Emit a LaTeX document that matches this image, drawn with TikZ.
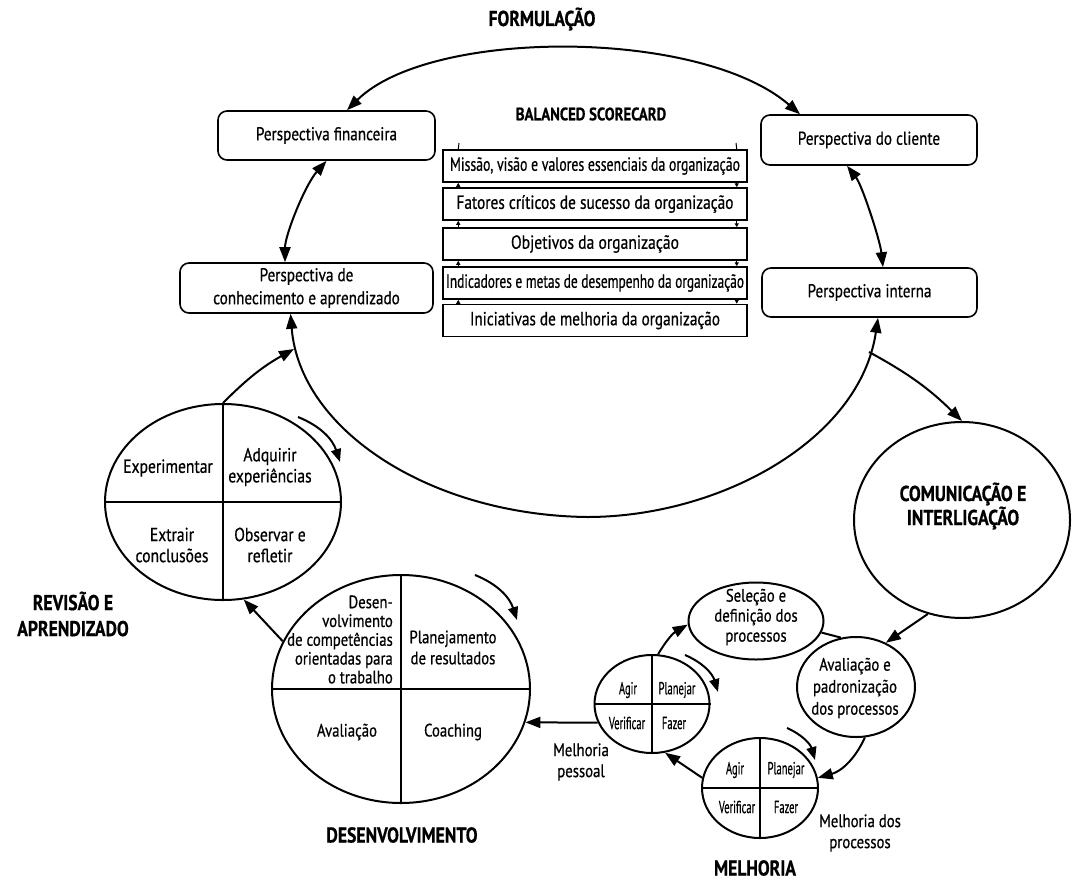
\documentclass[tikz,border=0pt]{standalone}
\usepackage{graphicx}
\usepackage{fontspec}
\setmainfont[FakeStretch=0.82, FakeBold=0.6]{PT Sans}
\newfontfamily\condfont[FakeStretch=0.6, FakeBold=0.5]{PT Sans}
\newfontfamily\pdcafont[FakeStretch=0.6, FakeBold=0.5]{PT Sans}
\usetikzlibrary{shapes.geometric,arrows.meta}
\newcommand\fsz[2]{\fontsize{#1}{#2}\selectfont}
% set a line of text at a given width, keeping its height
\newcommand\fitw[2]{\resizebox{#1}{\height}{#2}}

\tikzset{
  every node/.style={inner sep=0pt},
  pbox/.style={draw, line width=1.6pt, rounded corners=9pt, fill=white, align=center, font=\fsz{18.5}{23}},
  bbox/.style={draw, line width=1.5pt, minimum width=304pt, minimum height=32pt, font=\condfont\fsz{19}{21}},
  ring/.style={draw, ellipse, line width=2pt},
  split/.style={line width=1.8pt},
  qtext/.style={font=\fsz{19}{21}, align=center},
  dtext/.style={font=\fsz{18}{18.8}},
  stext/.style={font=\fsz{18}{21}, align=center},
  ptext/.style={font=\pdcafont\fsz{17.5}{18}},
  heading/.style={font=\bfseries\fsz{21.5}{26}, align=center},
  flow/.style={line width=2pt, ->},
  both/.style={line width=2pt, <->},
  spin/.style={line width=2pt, -{Triangle[length=13pt,width=10pt]}},
  link/.style={line width=1pt, -{Triangle[length=4pt,width=4pt]}},
}

\begin{document}
\begin{tikzpicture}[x=1pt, y=-1pt, >={Triangle[length=15pt,width=11pt]}]
\useasboundingbox (0,0) rectangle (1076,881);

% ---------- headings ----------
\node[heading] (hForm) at (542,19) {FORMULAÇÃO};
\node[font=\bfseries\fsz{18}{20}] (hBsc) at (591,114) {BALANCED SCORECARD};
\node[heading] (hRev) at (73,614) {REVISÃO E\\APRENDIZADO};
\node[heading] (hDev) at (402,835) {DESENVOLVIMENTO};
\node[heading] (hMel) at (755,868) {MELHORIA};

% ---------- the four perspectives ----------
\node[pbox, minimum width=217pt, minimum height=49pt] (fin) at (326.5,135.5) {Perspectiva financeira};
\node[pbox, minimum width=253pt, minimum height=50pt] (conh) at (306.5,288) {Perspectiva de\\conhecimento e aprendizado};
\node[pbox, minimum width=216pt, minimum height=50pt] (cli) at (869,140) {Perspectiva do cliente};
\node[pbox, minimum width=215pt, minimum height=49pt] (int) at (869.5,292.5) {Perspectiva interna};

% ---------- balanced scorecard stack ----------
\node[bbox] (b1) at (595,166) {\fitw{290pt}{Missão, visão e valores essenciais da organização}};
\node[bbox] (b2) at (595,204) {\fitw{277pt}{Fatores críticos de sucesso da organização}};
\node[bbox] (b3) at (595,244) {\fitw{168pt}{Objetivos da organização}};
\node[bbox] (b4) at (595,283) {\fitw{298pt}{Indicadores e metas de desempenho da organização}};
\node[bbox] (b5) at (595,320.5) {\fitw{250pt}{Iniciativas de melhoria da organização}};

\coordinate (tl) at (459,143);
\coordinate (tr) at (736,143);
\draw[line width=1pt] (tl) -- ([xshift=16pt]b1.north west);
\draw[line width=1pt] (tr) -- ([xshift=-11pt]b1.north east);
\foreach \u/\l in {b1/b2, b2/b3, b3/b4, b4/b5} {
  \draw[link] ([xshift=16pt]\l.north west) -- ([xshift=16pt]\u.south west);
  \draw[link] ([xshift=-11pt]\u.south east) -- ([xshift=-11pt]\l.north east);
}

% ---------- revision and learning cycle ----------
\node[ring, minimum width=236pt, minimum height=196pt] (rev) at (223,502) {};
\draw[split] (rev.north) -- (rev.south);
\draw[split] (rev.west) -- (rev.east);
\node[qtext] (r1) at (168,468) {Experimentar};
\node[qtext] (r2) at (270,467) {Adquirir\\experiências};
\node[qtext] (r3) at (172,545) {Extrair\\conclusões};
\node[qtext] (r4) at (270,545) {Observar e\\refletir};

% ---------- development cycle ----------
\node[ring, minimum width=258pt, minimum height=228pt] (dev) at (401,689) {};
\draw[split] (dev.north) -- (dev.south);
\draw[split] (dev.west) -- (dev.east);
\node[dtext, align=right, anchor=east] (d1) at (393,639.5) {Desen-\\volvimento\\de competências\\orientadas para\\o trabalho};
\node[dtext, font=\fsz{18}{21}, align=center] (d2) at (453,647.5) {Planejamento\\de resultados};
\node[dtext] (d3) at (347,732) {Avaliação};
\node[dtext] (d4) at (453,732) {Coaching};

% ---------- communication ----------
\node[ring, minimum width=216pt, minimum height=196pt] (com) at (962,520) {};
\node[heading, font=\bfseries\fsz{21.5}{22}] (comT) at (963,506) {COMUNICAÇÃO E\\INTERLIGAÇÃO};

% ---------- process improvement ----------
\node[ring, minimum width=135pt, minimum height=77pt] (sel) at (756,621) {};
\node[stext, font=\fsz{18}{20}] (selT) at (756,617) {Seleção e\\definição dos\\processos};
\node[ring, minimum width=118pt, minimum height=100pt] (ava) at (856,687) {};
\node[stext, font=\fsz{18}{22}] (avaT) at (855,688) {Avaliação e\\padronização\\dos processos};

\node[ring, minimum width=115pt, minimum height=98pt] (p1) at (652,704) {};
\draw[split] (p1.north) -- (p1.south);
\draw[split] (p1.west) -- (p1.east);
\node[ptext] (p1a) at (628,690) {Agir};
\node[ptext] (p1b) at (677,690) {Planejar};
\node[ptext] (p1c) at (627,723) {Verificar};
\node[ptext] (p1d) at (674,723) {Fazer};

\node[ring, minimum width=116pt, minimum height=100pt] (p2) at (760,788) {};
\draw[split] (p2.north) -- (p2.south);
\draw[split] (p2.west) -- (p2.east);
\node[ptext] (p2a) at (735,770) {Agir};
\node[ptext] (p2b) at (786,770) {Planejar};
\node[ptext] (p2c) at (737,807) {Verificar};
\node[ptext] (p2d) at (786,807) {Fazer};

\node[stext] (mp) at (581,762) {Melhoria\\pessoal};
\node[stext] (mdp) at (860,833) {Melhoria dos\\processos};

% ---------- the large formulation loop ----------
\draw[both] ([xshift=20.5pt]fin.north) .. controls (430,28) and (700,28) .. ([xshift=-69pt]cli.north);
\draw[both] (fin.south) .. controls (305,185) and (285,235) .. ([xshift=-21.5pt]conh.north);
\draw[both] ([xshift=-22pt]cli.south) .. controls (862,185) and (880,240) .. ([xshift=13.5pt]int.north);
\coordinate (ebot) at (587,517);
\draw[both] ([xshift=8.5pt]int.south) .. controls (860,440) and (720,517) .. (ebot)
  .. controls (430,515) and (300,430) .. ([xshift=-16pt]conh.south);

% ---------- links between the cycles ----------
\coordinate (arcR) at (869,352);
\coordinate (arcL) at (294,349);
\draw[flow] (arcR) to[bend left=8] (com.north);
\draw[flow] (rev.north) to[bend left=8] (arcL);
\draw[flow] (com.250) -- (ava.56);
\draw[line width=2pt] (sel.-10) -- (ava.107);
\draw[flow] (ava.-80) to[bend left=25] (p2.10);
\draw[flow] (p2.170) -- (p1.-75);
\draw[flow] (p1.83) to[bend left=15] (sel.183);
\draw[flow] (p1.199) -- (dev.-15);
\draw[flow] (dev.158) -- (rev.-78);

% ---------- rotation marks ----------
\coordinate (ra1) at (298,417);  \coordinate (ra2) at (340,462);
\coordinate (da1) at (475,575);  \coordinate (da2) at (517,620);
\coordinate (pa1) at (685,655);  \coordinate (pa2) at (718,692);
\coordinate (qa1) at (787,728);  \coordinate (qa2) at (815,760);
\draw[spin] (ra1) to[bend left=25] (ra2);
\draw[spin] (da1) to[bend left=25] (da2);
\draw[spin] (pa1) to[bend left=25] (pa2);
\draw[spin] (qa1) to[bend left=25] (qa2);
\end{tikzpicture}
\end{document}
